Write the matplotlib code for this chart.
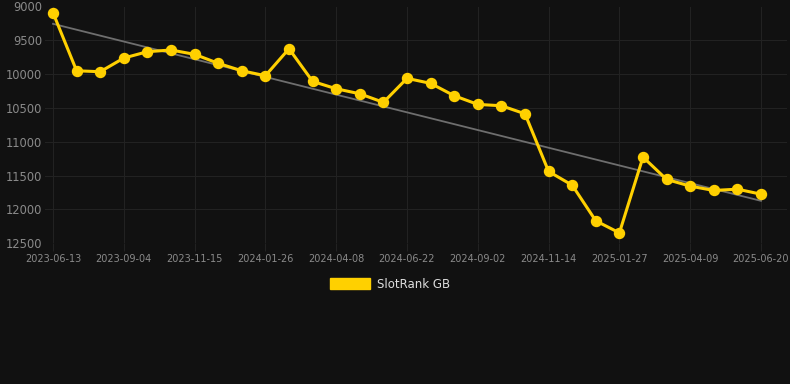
import matplotlib
matplotlib.use("Agg")
import matplotlib.pyplot as plt
from matplotlib.patches import Patch
import numpy as np

# rank values (lower is better, axis inverted)
rank = [9092, 9950, 9964, 9762, 9668, 9643, 9707, 9840, 9950, 10023,
        9624, 10107, 10216, 10290, 10417, 10062, 10136, 10319, 10447, 10467,
        10586, 11438, 11641, 12168, 12346, 11226, 11556, 11655, 11719, 11700,
        11774]
tickLabels = ["2023-06-13", "2023-09-04", "2023-11-15", "2024-01-26", "2024-04-08",
              "2024-06-22", "2024-09-02", "2024-11-14", "2025-01-27", "2025-04-09",
              "2025-06-20"]
yTicks = [9000, 9500, 10000, 10500, 11000, 11500, 12000, 12500]

bg = "#111111"
gridCol = "#222222"
textCol = "#8a8a8a"
yellow = "#FFD000"

x = np.arange(len(rank))
fit = np.polyfit(x, rank, 1)  # trend line
trend = np.polyval(fit, x)

fig = plt.figure(figsize=(7.9, 3.84), dpi=100, facecolor=bg)
ax = fig.add_axes([45/790, 140.7/384, 742/790, 236.8/384], facecolor=bg)

pxPerIdx = (761 - 53) / 30.0
ax.set_xlim(-8/pxPerIdx, 30 + 26/pxPerIdx)
ax.set_ylim(12500, 9000)

ax.plot(x, trend, color="#6e6e6e", lw=1.3, zorder=2)
ax.plot(x, rank, color=yellow, lw=2.2, marker="o", ms=7.2, zorder=3, clip_on=False)

ax.set_yticks(yTicks)
ax.set_yticklabels([str(v) for v in yTicks])
ax.set_xticks(x[::3])
ax.set_xticklabels(tickLabels)

ax.grid(True, color=gridCol, lw=0.8)
ax.set_axisbelow(True)
for s in ax.spines.values():
    s.set_visible(False)
ax.tick_params(axis="y", length=0, pad=2, labelsize=8.3, labelcolor=textCol)
ax.tick_params(axis="x", length=6, width=0.8, color=gridCol, pad=2, labelsize=7, labelcolor=textCol)

handle = Patch(facecolor=yellow, edgecolor=yellow)
leg = fig.legend([handle], ["SlotRank GB"], loc="center", bbox_to_anchor=(390/790, 1 - 284/384),
                 frameon=False, fontsize=8.5, handlelength=3.4, handleheight=1.0,
                 handletextpad=0.6, labelcolor="#dddddd")

fig.savefig("out.png", dpi=100, facecolor=bg)
